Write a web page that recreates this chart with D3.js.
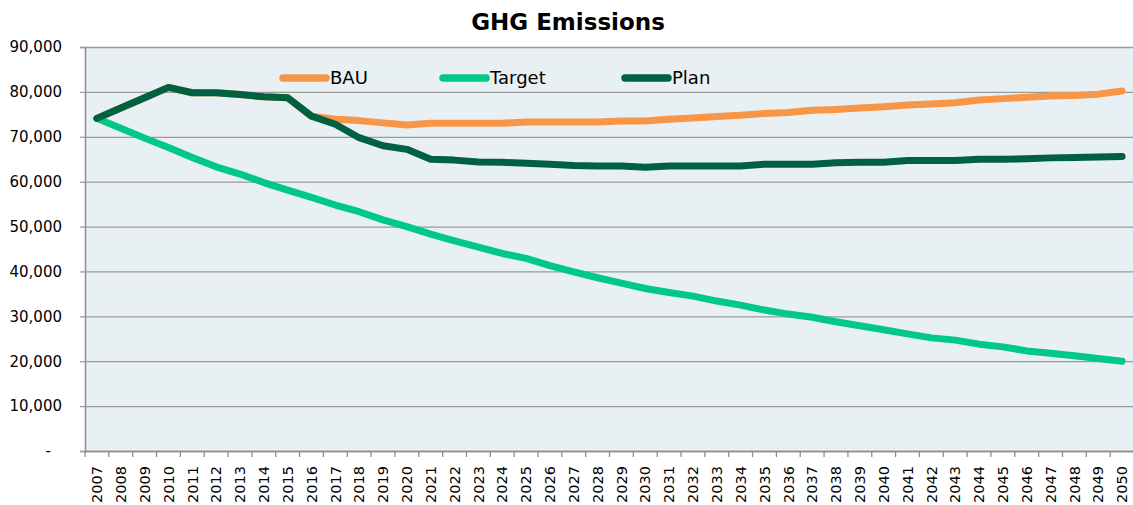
<!DOCTYPE html>
<html>
<head>
<meta charset="utf-8">
<script src="https://cdn.jsdelivr.net/npm/d3@7"></script>
<style>
  body { margin: 0; background: #fff; }
  svg { display: block; font-family: "DejaVu Sans", Verdana, sans-serif; }
</style>
</head>
<body>
<svg id="chart" width="1133" height="505"></svg>
<script>
const years = d3.range(2007, 2051).map(String);

const bau = [74100, 76400, 78700, 81000, 79800, 79800, 79400, 78900, 78700, 74600,
  73900, 73600, 73100, 72600, 73000, 73000, 73000, 73000, 73300, 73300,
  73300, 73300, 73500, 73500, 73900, 74200, 74500, 74800, 75200, 75400,
  75900, 76100, 76400, 76700, 77100, 77300, 77600, 78200, 78500, 78800,
  79100, 79200, 79500, 80200];

const target = [74100, 71900, 69700, 67600, 65400, 63300, 61700, 59800, 58100, 56500,
  54800, 53300, 51500, 50000, 48300, 46800, 45400, 44000, 42900, 41300,
  39900, 38600, 37400, 36200, 35300, 34500, 33400, 32500, 31400, 30500,
  29800, 28800, 27900, 27000, 26100, 25200, 24700, 23800, 23200, 22300,
  21800, 21200, 20600, 20000];

const plan = [74100, 76400, 78700, 81000, 79800, 79800, 79400, 78900, 78700, 74600,
  72800, 69800, 68000, 67200, 65000, 64800, 64400, 64300, 64100, 63900,
  63600, 63500, 63500, 63200, 63500, 63500, 63500, 63500, 63900, 63900,
  63900, 64200, 64300, 64300, 64700, 64700, 64700, 65000, 65000, 65100,
  65300, 65400, 65500, 65600];

const yTicks = d3.range(0, 90001, 10000);

const series = [
  {name: "BAU", values: bau, color: "#f79646", lx: 283},
  {name: "Target", values: target, color: "#00c986", lx: 443},
  {name: "Plan", values: plan, color: "#006140", lx: 625}
];

const plotLeft = 85, plotRight = 1134, plotTop = 47, plotBottom = 451;

const svg = d3.select("#chart");

const x = d3.scaleBand().domain(years).range([plotLeft, plotRight]).padding(0);
const y = d3.scaleLinear().domain([0, 90000]).range([plotBottom, plotTop]);

// plot background
svg.append("rect")
  .attr("x", plotLeft).attr("y", plotTop)
  .attr("width", plotRight - plotLeft).attr("height", plotBottom - plotTop)
  .attr("fill", "#e9f0f3");

// title
svg.append("text")
  .attr("x", 568).attr("y", 30)
  .attr("text-anchor", "middle")
  .style("font-size", "23px")
  .style("font-weight", "bold")
  .text("GHG Emissions");

// y axis with gridlines
const yAxis = svg.append("g")
  .attr("transform", `translate(${plotLeft},0)`)
  .call(d3.axisLeft(y).tickValues(yTicks).tickSize(5).tickPadding(18)
    .tickFormat(d => d === 0 ? "-" : d3.format(",")(d)))
  .attr("font-family", null)
  .attr("font-size", 15);
yAxis.select(".domain").attr("stroke", "#8c8c8c").attr("stroke-width", 1.5);
yAxis.selectAll(".tick line").attr("stroke", "#9a9a9a").attr("stroke-width", 1.3);
yAxis.selectAll(".tick text")
  .attr("fill", "#000")
  .attr("dx", d => d === 0 ? -11 : 0);
yAxis.selectAll(".tick").append("line")
  .attr("x1", 0).attr("x2", plotRight - plotLeft)
  .attr("stroke", "#9a9a9a").attr("stroke-width", 1.3);

// x axis: ticks at band edges, labels at band centers
const xAxis = svg.append("g")
  .attr("transform", `translate(0,${plotBottom})`)
  .call(d3.axisBottom(x).tickSize(0).tickPadding(0))
  .attr("font-family", null)
  .attr("font-size", 14.5);
xAxis.select(".domain").attr("stroke", "#8c8c8c").attr("stroke-width", 1.5);
xAxis.selectAll(".tick text")
  .attr("fill", "#000")
  .attr("text-anchor", "end")
  .attr("transform", "rotate(-90)")
  .attr("x", -15).attr("y", 0).attr("dy", "0.36em");

const edges = years.map(d => x(d)).concat([x(years[years.length - 1]) + x.bandwidth()]);
xAxis.selectAll(".edge")
  .data(edges)
  .enter().append("line")
  .attr("class", "edge")
  .attr("x1", d => d).attr("x2", d => d)
  .attr("y1", 0).attr("y2", 6)
  .attr("stroke", "#8c8c8c").attr("stroke-width", 1.3);

const line = d3.line()
  .x((d, i) => x(years[i]) + x.bandwidth() / 2)
  .y(d => y(d));

series.forEach(s => {
  svg.append("path")
    .datum(s.values)
    .attr("d", line)
    .attr("fill", "none")
    .attr("stroke", s.color)
    .attr("stroke-width", 7)
    .attr("stroke-linecap", "round")
    .attr("stroke-linejoin", "round");
});

// legend
const legend = svg.append("g");
series.forEach(s => {
  legend.append("line")
    .attr("x1", s.lx).attr("x2", s.lx + 43)
    .attr("y1", 78).attr("y2", 78)
    .attr("stroke", s.color)
    .attr("stroke-width", 7.5)
    .attr("stroke-linecap", "round");
  legend.append("text")
    .attr("x", s.lx + 47).attr("y", 78)
    .attr("dy", "0.36em")
    .style("font-size", "18px")
    .text(s.name);
});
</script>
</body>
</html>
